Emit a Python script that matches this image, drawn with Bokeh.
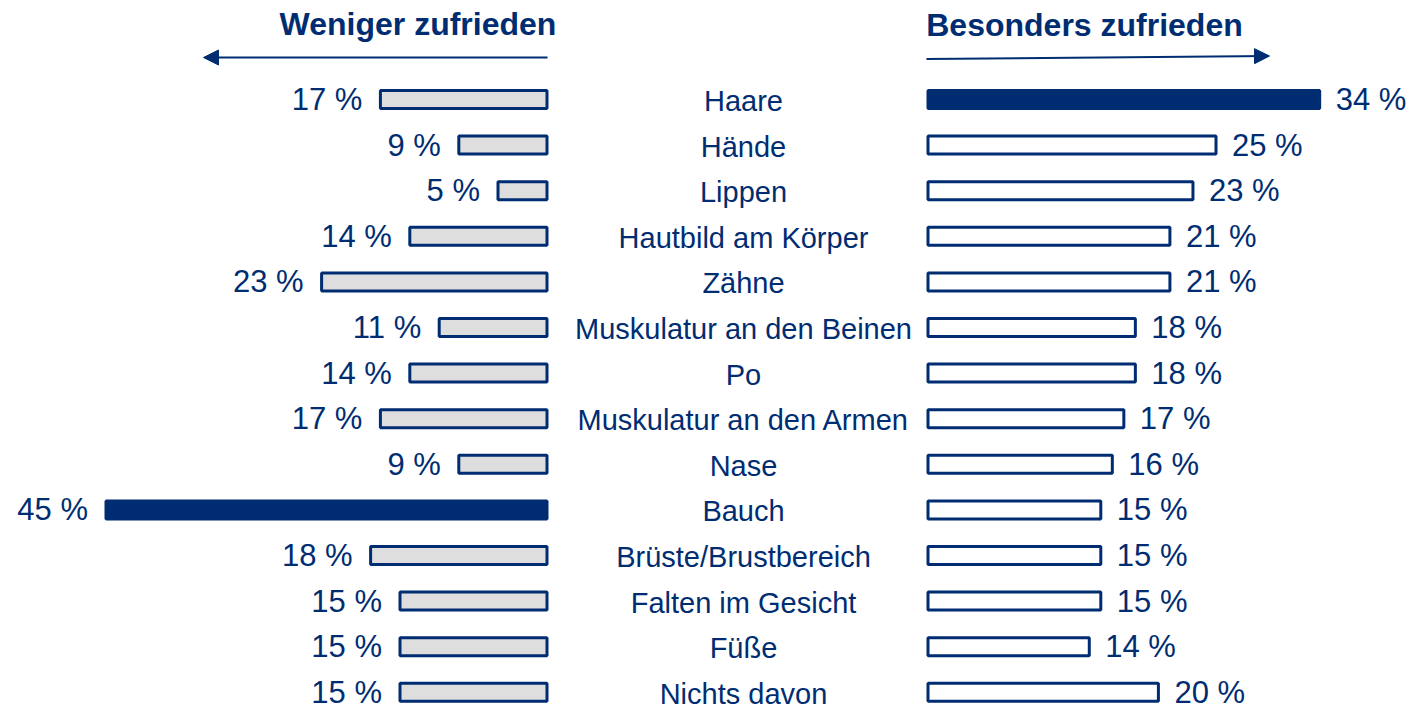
from bokeh.plotting import figure
from bokeh.models import Range1d, ColumnDataSource, Arrow, NormalHead, Label
from bokeh.core.properties import value
from bokeh.embed import file_html
from bokeh.resources import INLINE

categories = ["Haare", "Hände", "Lippen", "Hautbild am Körper", "Zähne",
              "Muskulatur an den Beinen", "Po", "Muskulatur an den Armen", "Nase",
              "Bauch", "Brüste/Brustbereich", "Falten im Gesicht", "Füße", "Nichts davon"]
weniger = [17, 9, 5, 14, 23, 11, 14, 17, 9, 45, 18, 15, 15, 15]
besonders = [34, 25, 23, 21, 21, 18, 18, 17, 16, 15, 15, 15, 14, 20]
title_left = "Weniger zufrieden"
title_right = "Besonders zufrieden"

NAVY = "#002D72"
GRAY = "#DEDEDE"
FONT = "Liberation Sans"

W, H = 1412, 711
R_ZERO, R_SCALE = 927.5, 11.52
L_ZERO, L_SCALE = 546.5, 9.8
ROW0, ROWH = 99.0, 45.6

p = figure(width=W, height=H, output_backend="svg", toolbar_location=None,
           x_range=Range1d(-R_ZERO / R_SCALE, (W - R_ZERO) / R_SCALE),
           y_range=Range1d((H - ROW0) / ROWH, -ROW0 / ROWH),
           min_border=0, outline_line_color=None)
p.extra_x_ranges = {"left": Range1d(L_ZERO / L_SCALE, (L_ZERO - W) / L_SCALE)}
p.xaxis.visible = False
p.yaxis.visible = False
p.grid.visible = False
p.background_fill_color = "white"
p.border_fill_color = "white"

idx = list(range(len(categories)))
mx_l, mx_r = max(weniger), max(besonders)
src = ColumnDataSource(dict(
    y=idx, cat=categories, wl=weniger, br=besonders,
    wl_txt=[f"{v} %" for v in weniger], br_txt=[f"{v} %" for v in besonders],
    wl_fill=[NAVY if v == mx_l else GRAY for v in weniger],
    br_fill=[NAVY if v == mx_r else "white" for v in besonders],
))

bh = 18 / ROWH
p.hbar(y="y", left=0, right="wl", height=bh, source=src, x_range_name="left",
       fill_color="wl_fill", line_color=NAVY, line_width=3)
p.hbar(y="y", left=0, right="br", height=bh, source=src,
       fill_color="br_fill", line_color=NAVY, line_width=3)

p.text(x="wl", y="y", text="wl_txt", source=src, x_range_name="left",
       text_align="right", text_baseline="middle", x_offset=-18, y_offset=0,
       text_font=value(FONT), text_font_size="31px", text_color=NAVY)
p.text(x="br", y="y", text="br_txt", source=src,
       text_align="left", text_baseline="middle", x_offset=16, y_offset=0,
       text_font=value(FONT), text_font_size="31px", text_color=NAVY)

mid_x = (743 - R_ZERO) / R_SCALE
p.text(x=mid_x, y="y", text="cat", source=src,
       text_align="center", text_baseline="middle", y_offset=1.5,
       text_font=value(FONT), text_font_size="29px", text_color=NAVY)

# headers
p.add_layout(Label(x=(417.5 - R_ZERO) / R_SCALE, y=(23 - ROW0) / ROWH, text=title_left,
                   text_align="center", text_baseline="middle", text_font=FONT,
                   text_font_size="32px", text_font_style="bold", text_color=NAVY))
p.add_layout(Label(x=(1084 - R_ZERO) / R_SCALE, y=(24 - ROW0) / ROWH, text=title_right,
                   text_align="center", text_baseline="middle", text_font=FONT,
                   text_font_size="32px", text_font_style="bold", text_color=NAVY))

# arrows
p.add_layout(Arrow(x_start=(547 - R_ZERO) / R_SCALE, y_start=(57 - ROW0) / ROWH,
                   x_end=(203 - R_ZERO) / R_SCALE, y_end=(57 - ROW0) / ROWH,
                   line_color=NAVY, line_width=2,
                   end=NormalHead(size=15, fill_color=NAVY, line_color=NAVY, line_width=1)))
p.add_layout(Arrow(x_start=(926 - R_ZERO) / R_SCALE, y_start=(58.5 - ROW0) / ROWH,
                   x_end=(1269 - R_ZERO) / R_SCALE, y_end=(55.5 - ROW0) / ROWH,
                   line_color=NAVY, line_width=2,
                   end=NormalHead(size=15, fill_color=NAVY, line_color=NAVY, line_width=1)))

open("out.html", "w").write(file_html(p, INLINE))
